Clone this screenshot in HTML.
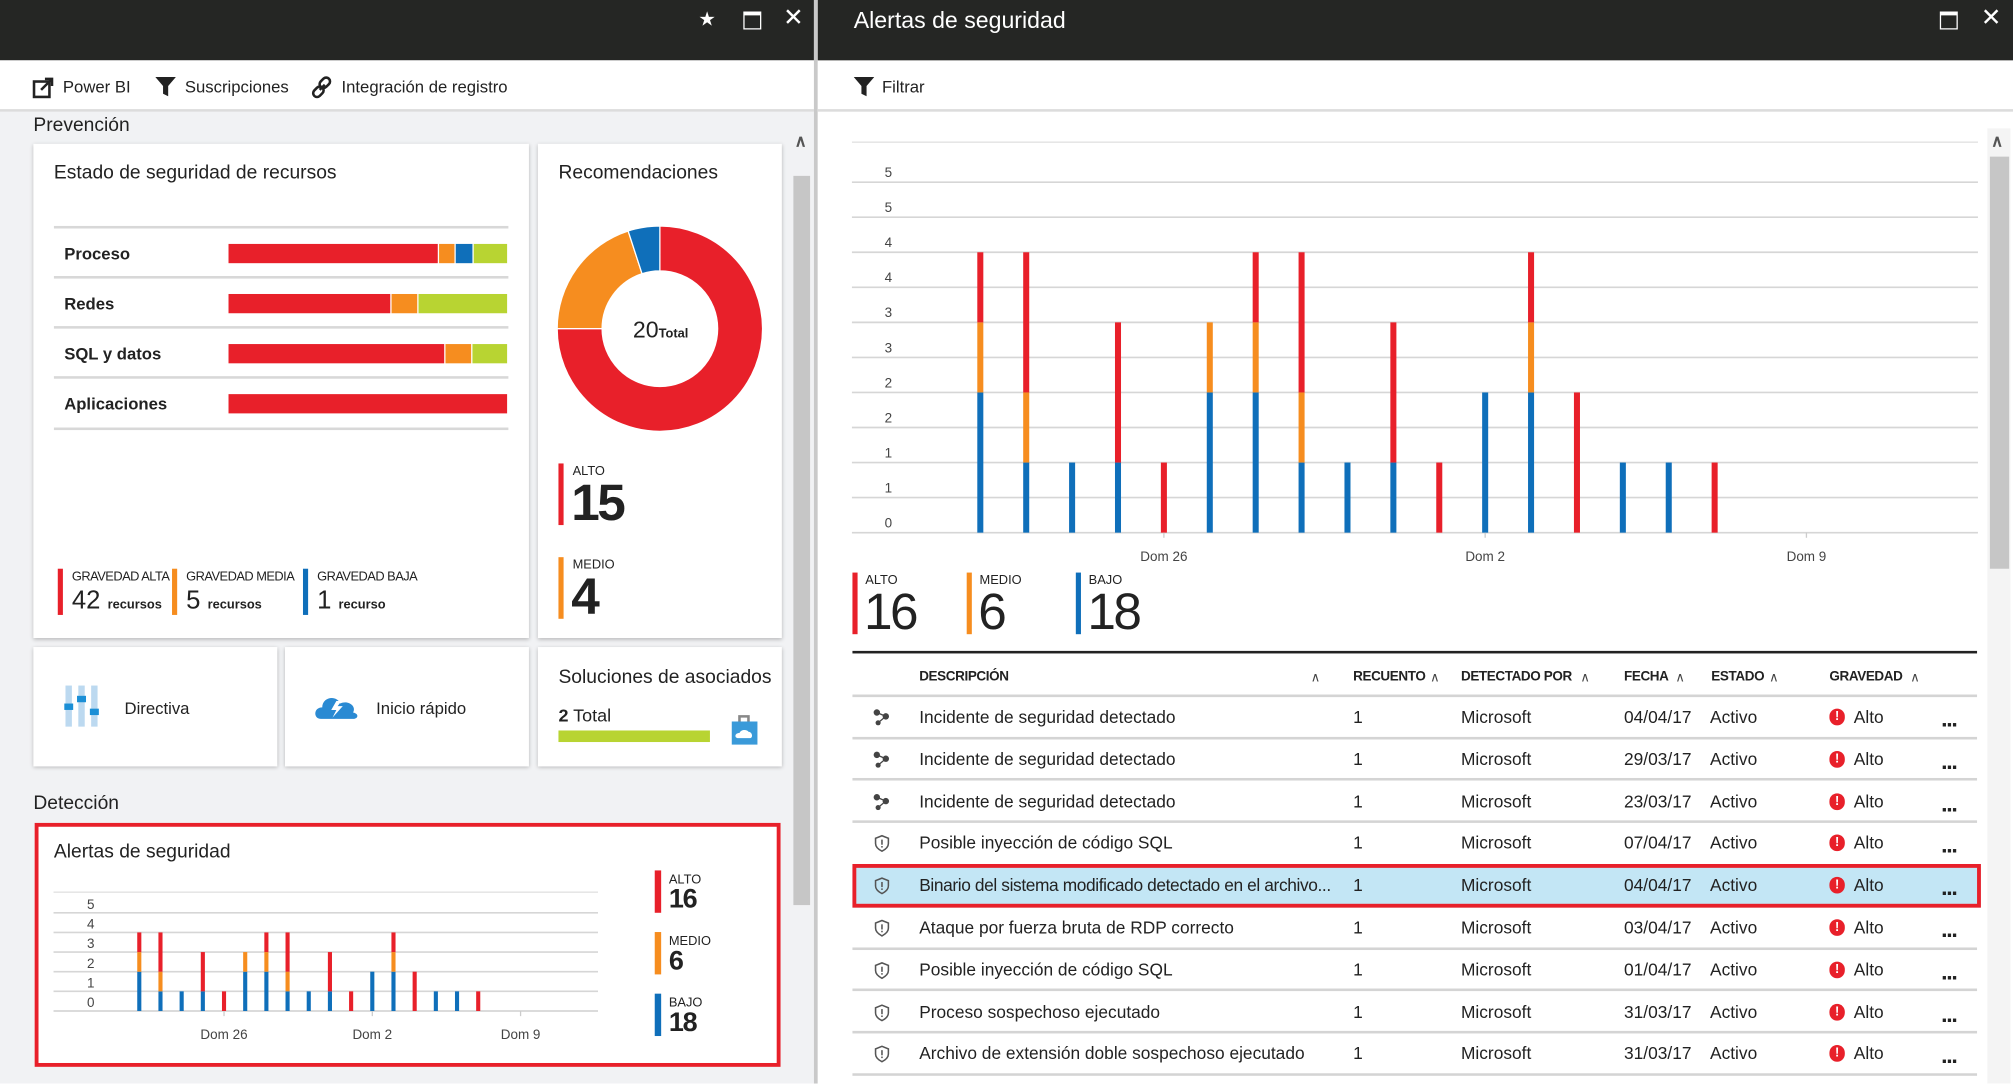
<!DOCTYPE html>
<html><head><meta charset="utf-8">
<style>
html,body{margin:0;padding:0;width:2013px;height:1084px;overflow:hidden;background:#fff;}
#root{position:absolute;left:0;top:0;width:1568px;height:844px;transform:scale(1.28380);transform-origin:0 0;font-family:"Liberation Sans",sans-serif;color:#222;}
.a{position:absolute;white-space:nowrap;}
.card{position:absolute;background:#fff;box-shadow:0 1px 3px rgba(0,0,0,0.25);}
.t15{font-size:15px;color:#222;}
.tb{font-size:13px;color:#222;}
.lbl{font-size:13px;font-weight:bold;color:#222;}
.hdr{font-size:10.5px;font-weight:bold;color:#222;letter-spacing:-0.3px;}
.row{font-size:13.5px;color:#222;}
.sep{position:absolute;left:664px;width:876px;height:2px;background:#d4d4d4;}
.caret{font-size:10px;color:#444;}
</style></head><body>
<div id="root">

<div class="a" style="left:0;top:0;width:634px;height:844px;background:#f1f2f4;">
  <div class="a" style="left:0;top:0;width:634px;height:47px;background:#252624;"></div>
  <div class="a" style="left:544px;top:6px;color:#fff;font-size:15px;">&#x2605;</div>
  <div class="a" style="left:579px;top:9px;width:12px;height:10px;border:1.5px solid #fff;border-top-width:3px;"></div>
  <div class="a" style="left:610px;top:3px;color:#fff;font-size:19px;">&#x2715;</div>
  <div class="a" style="left:0;top:47px;width:634px;height:38px;background:#fff;border-bottom:2px solid #dcdcdc;"></div>
  <div class="a" style="left:25px;top:59px;">
    <svg width="17" height="17" style="position:absolute;left:0;top:1px"><rect x="1.5" y="3.5" width="12" height="12" fill="none" stroke="#222" stroke-width="2"/><path d="M7 10 L15 2 M10 1.5 H15.5 V7" stroke="#222" stroke-width="2" fill="none"/></svg>
    <span class="a tb" style="left:24px;top:1px;">Power BI</span></div>
  <div class="a" style="left:121px;top:59px;">
    <svg width="16" height="17" style="position:absolute;left:0;top:0"><path d="M0 1 H16 L10 8 V16 L6 14 V8 Z" fill="#222"/></svg>
    <span class="a tb" style="left:23px;top:1px;">Suscripciones</span></div>
  <div class="a" style="left:242px;top:59px;">
    <svg width="18" height="18" style="position:absolute;left:0;top:0"><path d="M7 11 L11 7" stroke="#222" stroke-width="2"/><rect x="8" y="1" width="6" height="9" rx="3" transform="rotate(45 11 5.5)" fill="none" stroke="#222" stroke-width="2"/><rect x="3" y="8" width="6" height="9" rx="3" transform="rotate(45 6 12.5)" fill="none" stroke="#222" stroke-width="2"/></svg>
    <span class="a tb" style="left:24px;top:1px;">Integración de registro</span></div>

  <div class="a t15" style="left:26px;top:89px;">Prevención</div>

  <div class="a" style="left:617px;top:100px;width:15px;height:744px;background:#f1f2f4;">
    <div class="a" style="left:2px;top:2px;color:#555;font-size:13px;font-weight:bold;">&#x2227;</div>
    <div class="a" style="left:1px;top:37px;width:13px;height:568px;background:#c6c6c6;"></div>
  </div>

  <div class="card" style="left:26px;top:112px;width:386px;height:385px;"></div>
  <div class="a t15" style="left:42px;top:126px;">Estado de seguridad de recursos</div>
  <div id="resrows"></div>

  <div class="card" style="left:419px;top:112px;width:190px;height:385px;"></div>
  <div class="a t15" style="left:435px;top:126px;">Recomendaciones</div>
  <svg class="a" id="donut" style="left:0;top:0;" width="634" height="500"></svg>
  <div class="a" style="left:493px;top:247px;font-size:18px;">20<span style="font-size:10px;font-weight:bold;">Total</span></div>
  <div class="a" style="left:435px;top:361px;width:4px;height:48px;background:#e8202a;"></div>
  <div class="a" style="left:446px;top:362px;font-size:10px;">ALTO</div>
  <div class="a" style="left:445px;top:370px;font-size:40px;line-height:44px;font-weight:bold;color:#222;letter-spacing:-2px;">15</div>
  <div class="a" style="left:435px;top:434px;width:4px;height:48px;background:#f68d1f;"></div>
  <div class="a" style="left:446px;top:435px;font-size:10px;">MEDIO</div>
  <div class="a" style="left:445px;top:443px;font-size:40px;line-height:44px;font-weight:bold;color:#222;">4</div>

  <div class="a" style="left:45px;top:443px;">
    <div class="a" style="left:0;top:0;width:4px;height:36px;background:#e8202a;"></div>
    <div class="a" style="left:11px;top:1px;font-size:10px;letter-spacing:-0.4px;">GRAVEDAD ALTA</div>
    <div class="a" style="left:11px;top:14px;font-size:20px;">42 <span style="font-size:10px;font-weight:bold;">recursos</span></div>
  </div>
  <div class="a" style="left:134px;top:443px;">
    <div class="a" style="left:0;top:0;width:4px;height:36px;background:#f68d1f;"></div>
    <div class="a" style="left:11px;top:1px;font-size:10px;letter-spacing:-0.4px;">GRAVEDAD MEDIA</div>
    <div class="a" style="left:11px;top:14px;font-size:20px;">5 <span style="font-size:10px;font-weight:bold;">recursos</span></div>
  </div>
  <div class="a" style="left:236px;top:443px;">
    <div class="a" style="left:0;top:0;width:4px;height:36px;background:#0f6fba;"></div>
    <div class="a" style="left:11px;top:1px;font-size:10px;letter-spacing:-0.4px;">GRAVEDAD BAJA</div>
    <div class="a" style="left:11px;top:14px;font-size:20px;">1 <span style="font-size:10px;font-weight:bold;">recurso</span></div>
  </div>

  <div class="card" style="left:26px;top:504px;width:190px;height:93px;"></div>
  <svg class="a" style="left:50px;top:534px;" width="32" height="34">
    <rect x="1" y="0" width="5" height="32" fill="#bcd9f0"/><rect x="11" y="0" width="5" height="32" fill="#bcd9f0"/><rect x="21" y="0" width="5" height="32" fill="#bcd9f0"/>
    <rect x="0" y="14" width="7" height="5" fill="#1b8fd6"/><rect x="10" y="8" width="7" height="5" fill="#1b8fd6"/><rect x="20" y="18" width="7" height="5" fill="#1b8fd6"/></svg>
  <div class="a tb" style="left:97px;top:544px;">Directiva</div>
  <div class="card" style="left:222px;top:504px;width:190px;height:93px;"></div>
  <svg class="a" style="left:244px;top:538px;" width="36" height="24">
    <path d="M6 22 C0 22 0 13 7 13 C7 5 18 3 21 10 C27 7 34 12 31 17 C36 18 35 22 31 22 Z" fill="#2a8ad3"/><path d="M18 8 L14 15 H18 L15 21 L23 12 H19 L22 8 Z" fill="#fff"/></svg>
  <div class="a tb" style="left:293px;top:544px;">Inicio rápido</div>
  <div class="card" style="left:419px;top:504px;width:190px;height:93px;"></div>
  <div class="a t15" style="left:435px;top:519px;">Soluciones de asociados</div>
  <div class="a" style="left:435px;top:549px;font-size:14px;"><b>2</b> Total</div>
  <div class="a" style="left:435px;top:569px;width:118px;height:9px;background:#b8d432;"></div>
  <svg class="a" style="left:568px;top:556px;" width="24" height="25">
    <path d="M8 6 V2 H15 V6" fill="none" stroke="#888" stroke-width="2"/><rect x="2" y="6" width="20" height="18" fill="#3a9ad9"/><path d="M7 19 C4 19 4 15 8 15 C9 12 14 12 15 14 C18 14 19 19 16 19 Z" fill="#fff"/></svg>

  <div class="a t15" style="left:26px;top:617px;">Detección</div>
  <div class="a" style="left:27px;top:641px;width:575px;height:184px;background:#fff;border:3px solid #e8202a;"></div>
  <div class="a t15" style="left:42px;top:655px;">Alertas de seguridad</div>
  <svg class="a" id="smallchart" style="left:0;top:0;" width="634" height="844"></svg>
  <div class="a" style="left:510px;top:678px;">
    <div class="a" style="left:0;top:0;width:5px;height:33px;background:#e8202a;"></div>
    <div class="a" style="left:11px;top:2px;font-size:10px;">ALTO</div>
    <div class="a" style="left:11px;top:11px;font-size:21px;font-weight:bold;letter-spacing:-1px;">16</div></div>
  <div class="a" style="left:510px;top:726px;">
    <div class="a" style="left:0;top:0;width:5px;height:33px;background:#f68d1f;"></div>
    <div class="a" style="left:11px;top:2px;font-size:10px;">MEDIO</div>
    <div class="a" style="left:11px;top:11px;font-size:21px;font-weight:bold;">6</div></div>
  <div class="a" style="left:510px;top:774px;">
    <div class="a" style="left:0;top:0;width:5px;height:33px;background:#0f6fba;"></div>
    <div class="a" style="left:11px;top:2px;font-size:10px;">BAJO</div>
    <div class="a" style="left:11px;top:11px;font-size:21px;font-weight:bold;letter-spacing:-1px;">18</div></div>
</div>

<div class="a" style="left:634px;top:0;width:3px;height:844px;background:#c9c9c9;"></div>

<div class="a" style="left:637px;top:0;width:931px;height:844px;background:#fff;"></div>
<div class="a" style="left:637px;top:0;width:931px;height:47px;background:#252624;"></div>
<div class="a" style="left:665px;top:6px;font-size:18px;color:#fff;">Alertas de seguridad</div>
<div class="a" style="left:1511px;top:9px;width:12px;height:10px;border:1.5px solid #fff;border-top-width:3px;"></div>
<div class="a" style="left:1543px;top:3px;color:#fff;font-size:19px;">&#x2715;</div>
<div class="a" style="left:637px;top:47px;width:931px;height:38px;border-bottom:2px solid #dcdcdc;"></div>
<div class="a" style="left:665px;top:59px;">
  <svg width="16" height="17" style="position:absolute;left:0;top:0"><path d="M0 1 H16 L10 8 V16 L6 14 V8 Z" fill="#222"/></svg>
  <span class="a tb" style="left:22px;top:1px;">Filtrar</span></div>
<div class="a" style="left:1548px;top:100px;width:18px;height:744px;background:#f4f4f4;">
  <div class="a" style="left:3px;top:2px;color:#555;font-size:13px;font-weight:bold;">&#x2227;</div>
  <div class="a" style="left:2px;top:22px;width:15px;height:321px;background:#c6c6c6;"></div>
</div>

<svg class="a" id="bigchart" style="left:0;top:0;" width="1568" height="844"></svg>

<div class="a" style="left:664px;top:446px;">
  <div class="a" style="left:0;top:0;width:4px;height:48px;background:#e8202a;"></div>
  <div class="a" style="left:10px;top:1px;font-size:10px;">ALTO</div>
  <div class="a" style="left:9px;top:9px;font-size:40px;line-height:44px;letter-spacing:-2px;">16</div></div>
<div class="a" style="left:753px;top:446px;">
  <div class="a" style="left:0;top:0;width:4px;height:48px;background:#f68d1f;"></div>
  <div class="a" style="left:10px;top:1px;font-size:10px;">MEDIO</div>
  <div class="a" style="left:9px;top:9px;font-size:40px;line-height:44px;">6</div></div>
<div class="a" style="left:838px;top:446px;">
  <div class="a" style="left:0;top:0;width:4px;height:48px;background:#0f6fba;"></div>
  <div class="a" style="left:10px;top:1px;font-size:10px;">BAJO</div>
  <div class="a" style="left:9px;top:9px;font-size:40px;line-height:44px;letter-spacing:-2px;">18</div></div>

<div class="a" style="left:664px;top:507px;width:876px;height:2px;background:#222;"></div>
<div class="a" style="left:0;top:521px;">
  <span class="a hdr" style="left:716px;">DESCRIPCIÓN</span><span class="a caret" style="left:1021px;top:2px;">&#x2227;</span>
  <span class="a hdr" style="left:1054px;">RECUENTO</span><span class="a caret" style="left:1114px;top:2px;">&#x2227;</span>
  <span class="a hdr" style="left:1138px;">DETECTADO POR</span><span class="a caret" style="left:1231px;top:2px;">&#x2227;</span>
  <span class="a hdr" style="left:1265px;">FECHA</span><span class="a caret" style="left:1305px;top:2px;">&#x2227;</span>
  <span class="a hdr" style="left:1333px;">ESTADO</span><span class="a caret" style="left:1378px;top:2px;">&#x2227;</span>
  <span class="a hdr" style="left:1425px;">GRAVEDAD</span><span class="a caret" style="left:1488px;top:2px;">&#x2227;</span>
</div>
<div id="tablerows"></div>

</div>
<script>
const NS="http://www.w3.org/2000/svg";
const RED="#e8202a",ORANGE="#f68d1f",BLUE="#0f6fba",GREEN="#b8d432";
const alertLow    =[2,1,1,1,0,2,2,1,1,1,0,2,2,0,1,1,0];
const alertMedium =[1,1,0,0,0,1,1,1,0,0,0,0,1,0,0,0,0];
const alertHigh   =[1,2,0,2,1,0,1,2,0,2,1,0,1,2,0,0,1];
const dayTickIdx  =[4,11,18];
const dayTickLabels=["Dom 26","Dom 2","Dom 9"];
const bigTickValues=[0,0.5,1,1.5,2,2.5,3,3.5,4,4.5,5];
const bigTickLabels=["0","1","1","2","2","3","3","4","4","5","5"];
const smallTickValues=[0,1,2,3,4,5];
const smallTickLabels=["0","1","2","3","4","5"];
const recCategories=["Alto","Medio","Bajo"];
const recValues=[15,4,1];
const resCategories=["Proceso","Redes","SQL y datos","Aplicaciones"];
const resHigh=[24,18,24,30];
const resMedium=[2,3,3,0];
const resLow=[2,0,0,0];
const resHealthy=[4,10,4,0];

function mk(svg,tag,attrs){const e=document.createElementNS(NS,tag);for(const k in attrs)e.setAttribute(k,attrs[k]);svg.appendChild(e);return e;}

function drawStacked(svg,o){
  const x=i=>o.x0+i*o.dx, y=v=>o.y0-v*o.dy;
  let tl=mk(svg,'line',{x1:o.gx0,x2:o.gx1,y1:y(o.topV),y2:y(o.topV),stroke:'#e6e6e6','stroke-width':1.3});
  
  
  o.tv.forEach((v,k)=>{
    const l=mk(svg,'line',{x1:o.gx0,x2:o.gx1,y1:y(v),y2:y(v),stroke:'#d6d6d6','stroke-width':1.3});
    
    
    const t=mk(svg,'text',{x:o.lx,y:y(v)-o.loff,'font-size':o.fs,fill:'#444','text-anchor':'middle','font-family':'Liberation Sans, sans-serif'});
    t.textContent=o.tl[k];
    
    
  });
  alertLow.forEach((b,i)=>{
    const segs=[[0,b,BLUE],[b,b+alertMedium[i],ORANGE],[b+alertMedium[i],b+alertMedium[i]+alertHigh[i],RED]];
    segs.forEach(s=>{ if(s[1]>s[0]){
      const r=mk(svg,'rect',{x:x(i)-o.bw/2,y:y(s[1]),width:o.bw,height:y(s[0])-y(s[1]),fill:s[2]});
      
      
    }});
  });
  dayTickIdx.forEach((d,k)=>{
    mk(svg,'line',{x1:x(d),x2:x(d),y1:o.y0,y2:o.y0+4,stroke:'#ccc','stroke-width':1});
    const t=mk(svg,'text',{x:x(d),y:o.y0+o.xoff,'font-size':o.fs,fill:'#444','text-anchor':'middle','font-family':'Liberation Sans, sans-serif'});
    t.textContent=dayTickLabels[k];
    
    
  });
}
drawStacked(document.getElementById('bigchart'),{x0:763.6,dx:35.75,y0:414.9,dy:54.6,gx0:663.6,gx1:1540.7,topV:5.57,tv:bigTickValues,tl:bigTickLabels,lx:692,loff:4,fs:10.5,bw:4.7,xoff:22});
drawStacked(document.getElementById('smallchart'),{x0:108.5,dx:16.5,y0:787.5,dy:15.3,gx0:41.7,gx1:465.8,topV:6.05,tv:smallTickValues,tl:smallTickLabels,lx:70.7,loff:3,fs:10.5,bw:3.2,xoff:22});

(function(){
  const svg=document.getElementById('donut');
  const cx=514,cy=256,R=80,r=45,cols=[RED,ORANGE,BLUE];
  const tot=recValues.reduce((a,b)=>a+b,0);
  let a0=0;
  recValues.forEach((v,i)=>{
    const a1=a0+v/tot*Math.PI*2;
    const p=(rad,ang)=>[cx+rad*Math.sin(ang),cy-rad*Math.cos(ang)];
    const lg=(a1-a0)>Math.PI?1:0;
    const [x1,y1]=p(R,a0),[x2,y2]=p(R,a1),[x3,y3]=p(r,a1),[x4,y4]=p(r,a0);
    const e=mk(svg,'path',{d:`M${x1} ${y1} A${R} ${R} 0 ${lg} 1 ${x2} ${y2} L${x3} ${y3} A${r} ${r} 0 ${lg} 0 ${x4} ${y4} Z`,fill:cols[i],stroke:'#fff','stroke-width':1});
    
    
    a0=a1;
  });
})();

(function(){
  const host=document.getElementById('resrows');
  const lines=[177,216,255,294,334];
  lines.forEach(y=>{const d=document.createElement('div');d.className='a';d.style.cssText=`left:42px;top:${y-1}px;width:354px;height:2px;background:#d8d8d8;`;
    
    
    host.appendChild(d);});
  resCategories.forEach((c,i)=>{
    const cy=lines[i]+20;
    const l=document.createElement('div');l.className='a lbl';l.style.cssText=`left:50px;top:${cy-7}px;`;l.textContent=c;
    
    
    host.appendChild(l);
    const tot=resHigh[i]+resMedium[i]+resLow[i]+resHealthy[i];
    const W=218;let x=178;
    [[resHigh[i],RED],[resMedium[i],ORANGE],[resLow[i],BLUE],[resHealthy[i],GREEN]].forEach(s=>{
      if(!s[0])return;const w=s[0]/tot*W;
      const b=document.createElement('div');b.className='a';b.style.cssText=`left:${x}px;top:${cy-7}px;width:${w-1}px;height:15px;background:${s[1]};`;
      
      
      host.appendChild(b);x+=w;});
  });
})();

(function(){
  const desc=["Incidente de seguridad detectado","Incidente de seguridad detectado","Incidente de seguridad detectado","Posible inyección de código SQL","Binario del sistema modificado detectado en el archivo...","Ataque por fuerza bruta de RDP correcto","Posible inyección de código SQL","Proceso sospechoso ejecutado","Archivo de extensión doble sospechoso ejecutado"];
  const dates=["04/04/17","29/03/17","23/03/17","07/04/17","04/04/17","03/04/17","01/04/17","31/03/17","31/03/17"];
  const host=document.getElementById('tablerows');
  let html='<div class="sep" style="top:541px;"></div>';
  desc.forEach((d,i)=>{
    const cy=558+i*32.8, top=cy-7;
    const hl=i===4;
    if(hl) html+=`<div class="a" style="left:664px;top:${cy-16}px;width:873px;height:28px;background:#c3e6f5;border:3px solid #e8202a;"></div>`;
    const icon=i<3?`<svg class="a" style="left:680px;top:${cy-6}px" width="13" height="13"><circle cx="3" cy="3" r="2.5" fill="#444"/><circle cx="10" cy="6" r="2.5" fill="#444"/><circle cx="4" cy="11" r="2" fill="#444"/><path d="M3 3 L10 6 L4 11" stroke="#444" fill="none"/></svg>`
      :`<svg class="a" style="left:681px;top:${cy-6}px" width="12" height="14"><path d="M6 1 L11 3 V7 C11 10 8 12 6 13 C4 12 1 10 1 7 V3 Z" fill="none" stroke="#555" stroke-width="1.2"/><rect x="5.4" y="4" width="1.2" height="4" fill="#555"/><rect x="5.4" y="9" width="1.2" height="1.2" fill="#555"/></svg>`;
    html+=`<div>${icon}
      <span class="a row" style="left:716px;top:${top}px;${hl?'letter-spacing:-0.3px;':''}">${d}</span>
      <span class="a row" style="left:1054px;top:${top}px;">1</span>
      <span class="a row" style="left:1138px;top:${top}px;">Microsoft</span>
      <span class="a row" style="left:1265px;top:${top}px;">${dates[i]}</span>
      <span class="a row" style="left:1332px;top:${top}px;">Activo</span>
      <span class="a" style="left:1425px;top:${cy-6}px;width:12px;height:13px;border-radius:6px;background:#e8202a;color:#fff;font-size:10px;font-weight:bold;text-align:center;line-height:13px;">!</span>
      <span class="a row" style="left:1444px;top:${top}px;">Alto</span>
      <span class="a" style="left:1512px;top:${cy-8}px;font-size:18px;font-weight:bold;letter-spacing:-1px;">...</span></div>`;
    if(!hl && i!==3) html+=`<div class="sep" style="top:${cy+15.5}px;"></div>`;
  });
  host.innerHTML=html;
})();
</script>
</body></html>
